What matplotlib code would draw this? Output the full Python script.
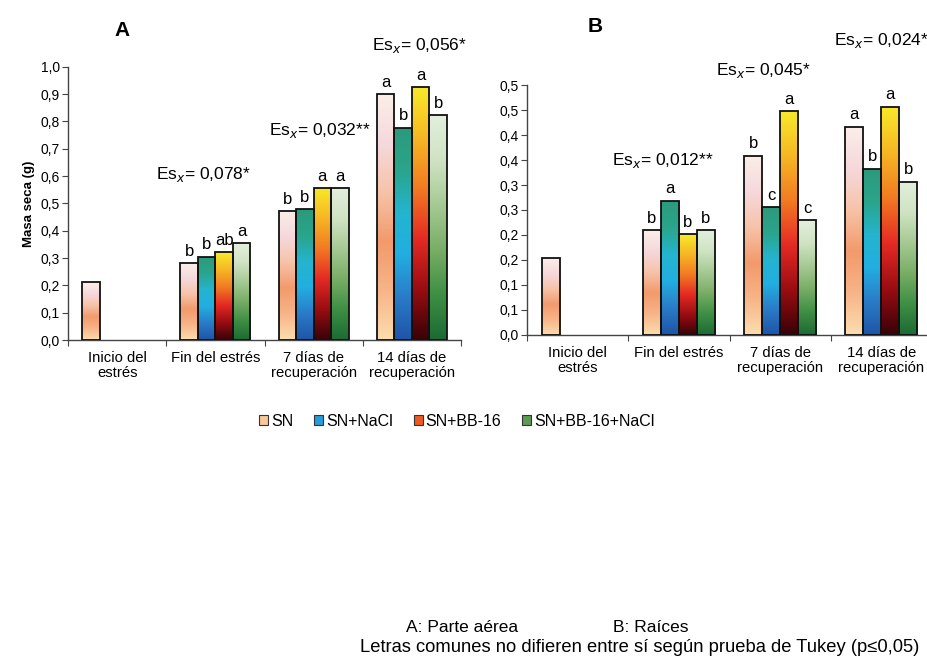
import matplotlib
matplotlib.use("Agg")
import matplotlib.pyplot as plt
import numpy as np
from matplotlib.colors import LinearSegmentedColormap
from matplotlib.patches import Patch

plt.rcParams['font.family'] = ['Liberation Sans', 'DejaVu Sans']

categories = ["Inicio del\nestrés", "Fin del estrés", "7 días de\nrecuperación", "14 días de\nrecuperación"]
series = ["SN", "SN+NaCl", "SN+BB-16", "SN+BB-16+NaCl"]

# Panel A: parte aérea (None = sin barra)
a_vals = {
    "SN":            [0.211, 0.280, 0.472, 0.899],
    "SN+NaCl":       [None,  0.305, 0.478, 0.777],
    "SN+BB-16":      [None,  0.321, 0.557, 0.925],
    "SN+BB-16+NaCl": [None,  0.354, 0.555, 0.822],
}
a_letters = {
    "SN":            [None, "b", "b", "a"],
    "SN+NaCl":       [None, "b", "b", "b"],
    "SN+BB-16":      [None, "ab", "a", "a"],
    "SN+BB-16+NaCl": [None, "a", "a", "b"],
}
a_es = ["", "Es$_x$= 0,078*", "Es$_x$= 0,032**", "Es$_x$= 0,056*"]
a_ticks = [0.0, 0.1, 0.2, 0.3, 0.4, 0.5, 0.6, 0.7, 0.8, 0.9, 1.0]
a_tick_labels = ["0,0", "0,1", "0,2", "0,3", "0,4", "0,5", "0,6", "0,7", "0,8", "0,9", "1,0"]

# Panel B: raíces
b_vals = {
    "SN":            [0.153, 0.210, 0.359, 0.417],
    "SN+NaCl":       [None,  0.269, 0.255, 0.333],
    "SN+BB-16":      [None,  0.201, 0.448, 0.457],
    "SN+BB-16+NaCl": [None,  0.210, 0.229, 0.307],
}
b_letters = {
    "SN":            [None, "b", "b", "a"],
    "SN+NaCl":       [None, "a", "c", "b"],
    "SN+BB-16":      [None, "b", "a", "a"],
    "SN+BB-16+NaCl": [None, "b", "c", "b"],
}
b_es = ["", "Es$_x$= 0,012**", "Es$_x$= 0,045*", "Es$_x$= 0,024*"]
b_ticks = [0.0, 0.05, 0.1, 0.15, 0.2, 0.25, 0.3, 0.35, 0.4, 0.45, 0.5]
b_tick_labels = ["0,0", "0,1", "0,1", "0,2", "0,2", "0,3", "0,3", "0,4", "0,4", "0,5", "0,5"]

# gradientes (de abajo hacia arriba)
gradients = {
    "SN":            ["#fcdcae", "#f7b488", "#f29a6c", "#f7c3a8", "#f6d8dc", "#fbeee8"],
    "SN+NaCl":       ["#1f55a8", "#2a7cc8", "#22aee0", "#25b4cf", "#2aa58c", "#2c9a7c"],
    "SN+BB-16":      ["#3a0208", "#9a0d12", "#e52a24", "#f27a22", "#f6b624", "#f8e82a"],
    "SN+BB-16+NaCl": ["#1d6b34", "#3f8f45", "#79ad66", "#a6c994", "#cfe3c3", "#e2efdc"],
}
legend_colors = {"SN": "#f9c89a", "SN+NaCl": "#2a9ad8", "SN+BB-16": "#ec5a1e", "SN+BB-16+NaCl": "#5c9c52"}

fig = plt.figure(figsize=(9.28, 6.61), dpi=100)
axA = fig.add_axes([0.0733, 0.4856, 0.4235, 0.4135])
axB = fig.add_axes([0.5679, 0.4932, 0.4364, 0.3782])


def draw_panel(ax, vals, letters, es_texts, ticks, tick_labels, ymax, es_pos):
    x = np.arange(len(categories))
    width = 0.178
    for i, s in enumerate(series):
        cmap = LinearSegmentedColormap.from_list(s, gradients[s])
        offs = (i - 1.5) * width
        for j, v in enumerate(vals[s]):
            if v is None:
                continue
            bar = ax.bar(x[j] + offs, v, width, facecolor="none", edgecolor="#111111",
                         linewidth=1.3, zorder=3)[0]
            grad = np.linspace(1, 0, 100).reshape(-1, 1)
            im = ax.imshow(grad, cmap=cmap, aspect="auto", zorder=2,
                           extent=[bar.get_x(), bar.get_x() + bar.get_width(), 0, v],
                           vmin=0, vmax=1)
            im.set_clip_path(bar)
            lt = letters[s][j]
            if lt:
                ax.annotate(lt, (x[j] + offs, v), xytext=(0, 3), textcoords="offset points",
                            ha="center", va="bottom", fontsize=12)
    for j, t in enumerate(es_texts):
        if t:
            ax.text(es_pos[j][0], es_pos[j][1], t, ha="center", va="center",
                    fontsize=12.5, clip_on=False)
    ax.set_xlim(-0.5, len(categories) - 0.5)
    ax.set_ylim(0, ymax)
    ax.set_xticks(np.arange(len(categories) + 1) - 0.5)
    ax.set_xticklabels([])
    ax.set_xticks(x, minor=True)
    ax.set_xticklabels(categories, minor=True, fontsize=10.7, linespacing=1.05)
    ax.tick_params(axis="x", which="minor", length=0, pad=8)
    ax.tick_params(axis="x", which="major", length=4, direction="out", color="#444444")
    ax.set_yticks(ticks)
    ax.set_yticklabels(tick_labels, fontsize=10)
    ax.tick_params(axis="y", length=4, direction="out", color="#444444", pad=2)
    for sp in ["top", "right"]:
        ax.spines[sp].set_visible(False)
    for sp in ["left", "bottom"]:
        ax.spines[sp].set_color("#444444")
        ax.spines[sp].set_linewidth(1.0)


draw_panel(axA, a_vals, a_letters, a_es, a_ticks, a_tick_labels, 1.0,
           [None, (0.88, 0.604), (2.06, 0.768), (3.08, 1.076)])
draw_panel(axB, b_vals, b_letters, b_es, b_ticks, b_tick_labels, 0.5,
           [None, (0.84, 0.35), (1.84, 0.53), (3.0, 0.59)])

axA.set_ylabel("Masa seca (g)", fontsize=9.5, fontweight="bold", labelpad=4)
fig.text(122 / 928, 1 - 30 / 661, "A", fontsize=15, fontweight="bold", ha="center", va="center")
fig.text(595 / 928, 1 - 27 / 661, "B", fontsize=15, fontweight="bold", ha="center", va="center")

handles = [Patch(facecolor=legend_colors[s], edgecolor="#333333", linewidth=0.8) for s in series]
fig.legend(handles, series, loc="center", bbox_to_anchor=(457 / 928, 1 - 421 / 661), ncol=4,
           frameon=False, fontsize=11.5, handlelength=0.55, handleheight=0.55,
           handletextpad=0.2, columnspacing=1.3)

fig.text(462 / 928, 1 - 628 / 661, "A: Parte aérea", fontsize=12.5, ha="center", va="center")
fig.text(651 / 928, 1 - 628 / 661, "B: Raíces", fontsize=12.5, ha="center", va="center")
fig.text(360 / 928, 1 - 648 / 661, "Letras comunes no difieren entre sí según prueba de Tukey (p≤0,05)",
         fontsize=13.2, ha="left", va="center")

fig.savefig("out.png", dpi=100)
